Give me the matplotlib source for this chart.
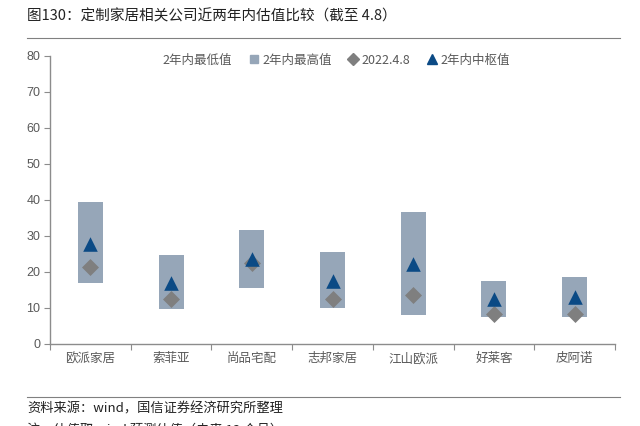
import matplotlib
matplotlib.use("Agg")
import matplotlib.pyplot as plt
from matplotlib.lines import Line2D
from matplotlib.patches import Patch
import numpy as np

plt.rcParams['font.family'] = ['Noto Sans CJK SC', 'DejaVu Sans']

companies = ['欧派家居', '索菲亚', '尚品宅配', '志邦家居', '江山欧派', '好莱客', '皮阿诺']
low_vals = [16.8, 9.6, 15.6, 10.1, 8.0, 7.6, 7.5]
high_vals = [39.3, 24.6, 31.5, 25.4, 36.5, 17.6, 18.7]
current_vals = [21.5, 12.5, 22.4, 12.5, 13.6, 8.2, 8.2]
median_vals = [27.8, 16.9, 23.5, 17.5, 22.2, 12.5, 13.1]
y_ticks = [0, 10, 20, 30, 40, 50, 60, 70, 80]

title = '图130：定制家居相关公司近两年内估值比较（截至 4.8）'
source = '资料来源：wind，国信证券经济研究所整理'
note = '注：估值取 wind 预测估值（未来 12 个月）'

bar_color = '#96A6B8'
tri_color = '#0B4A85'
dia_color = '#7F7F7F'
axis_color = '#8C8C8C'
text_color = '#595959'

fig = plt.figure(figsize=(6.4, 4.26), dpi=100)
ax = fig.add_axes([50/640, 1-344/426, 565/640, (344-55.7)/426])

x = np.arange(len(companies))
heights = np.array(high_vals) - np.array(low_vals)
ax.bar(x, heights, bottom=low_vals, width=0.31, color=bar_color, zorder=2)
ax.scatter(x, current_vals, marker='D', s=75, color=dia_color, zorder=3, linewidths=0)
ax.scatter(x, median_vals, marker='^', s=110, color=tri_color, zorder=4, linewidths=0)

ax.set_xlim(-0.5, len(companies) - 0.5)
ax.set_ylim(0, 80)
ax.set_yticks(y_ticks)
ax.set_yticklabels([str(v) for v in y_ticks], family=['Liberation Sans', 'DejaVu Sans'],
                   fontsize=9, color=text_color)
ax.set_xticks(np.arange(-0.5, len(companies), 1.0))
ax.set_xticklabels([])
ax.set_xticks(x, minor=True)
ax.set_xticklabels(companies, minor=True, fontsize=9, color=text_color)
ax.tick_params(axis='x', which='minor', length=0, pad=6)
ax.tick_params(axis='x', which='major', length=4, color=axis_color, direction='out')
ax.tick_params(axis='y', length=4, color=axis_color, direction='out', pad=3)

for s in ['top', 'right']:
    ax.spines[s].set_visible(False)
for s in ['left', 'bottom']:
    ax.spines[s].set_color(axis_color)
    ax.spines[s].set_linewidth(1.0)

handles = [
    Patch(facecolor='none', edgecolor='none'),
    Line2D([], [], marker='s', linestyle='none', color=bar_color, markersize=6),
    Line2D([], [], marker='D', linestyle='none', color=dia_color, markersize=6),
    Line2D([], [], marker='^', linestyle='none', color=tri_color, markersize=7),
]
labels = ['2年内最低值', '2年内最高值', '2022.4.8', '2年内中枢值']
leg = ax.legend(handles, labels, ncol=4, frameon=False, loc='center',
                bbox_to_anchor=(0.495, 0.985), fontsize=9, handlelength=0.8,
                handletextpad=0.3, columnspacing=1.3, labelcolor=text_color,
                borderpad=0, borderaxespad=0)

fig.text(27/640, 1-16/426, title, fontsize=10.5, color='#222222', va='center', ha='left')
fig.add_artist(Line2D([27/640, 620/640], [1-38/426, 1-38/426], color='#808080', linewidth=0.8))
fig.add_artist(Line2D([27/640, 620/640], [1-397/426, 1-397/426], color='#808080', linewidth=0.8))
fig.text(27/640, 1-409/426, source, fontsize=9.5, color='#222222', va='center', ha='left')
fig.text(27/640, 1-430/426, note, fontsize=9.5, color='#222222', va='center', ha='left')

fig.savefig('out.png', dpi=100)
